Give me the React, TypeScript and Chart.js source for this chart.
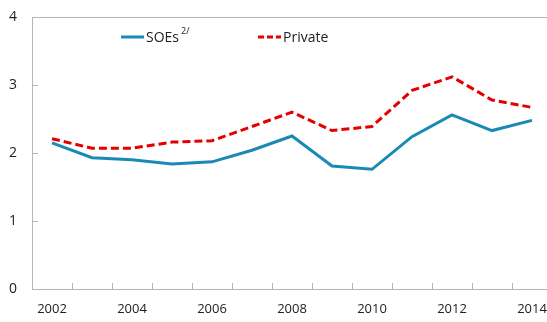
import React, { useEffect, useRef } from "react";
import { Chart, registerables } from "chart.js";

Chart.register(...registerables);

const years = [2002, 2003, 2004, 2005, 2006, 2007, 2008, 2009, 2010, 2011, 2012, 2013, 2014];
const soes = [2.15, 1.93, 1.9, 1.84, 1.87, 2.04, 2.25, 1.81, 1.76, 2.24, 2.56, 2.33, 2.48];
const privateSeries = [2.21, 2.07, 2.07, 2.16, 2.18, 2.39, 2.6, 2.33, 2.39, 2.92, 3.12, 2.78, 2.67];
const yMin = 0;
const yMax = 4;
const yStep = 1;
const soeLabel = "SOEs";
const soeNote = "2/";
const privateLabel = "Private";

// visible x window (the reference picture is cropped at the right)
const xMin = 2001.5;
const xMax = 2014.375;

const BLUE = "#1a8ab5";
const RED = "#e50000";
const AXIS = "#b5b5b5";
const TEXT = "#222222";
const FONT = "'Open Sans', 'Noto Sans', sans-serif";

const frameTicks = {
  id: "frameTicks",
  afterDraw(chart: any) {
    const { ctx } = chart;
    const x = chart.scales.x;
    const y = chart.scales.y;
    ctx.save();
    ctx.strokeStyle = AXIS;
    ctx.lineWidth = 1;
    ctx.beginPath();
    for (const yr of years) {
      const bx = x.getPixelForValue(yr + 0.5);
      if (bx > x.right + 0.5) continue;
      const px = Math.round(bx) + 0.5;
      ctx.moveTo(px, y.bottom);
      ctx.lineTo(px, y.bottom - 6);
    }
    for (const t of y.ticks) {
      if (t.value === yMin || t.value === yMax) continue;
      const py = Math.round(y.getPixelForValue(t.value)) + 0.5;
      ctx.moveTo(x.left, py);
      ctx.lineTo(x.left + 6, py);
    }
    ctx.stroke();
    ctx.restore();
  },
};

const customLegend = {
  id: "customLegend",
  afterDraw(chart: any) {
    const { ctx, chartArea } = chart;
    const ds = chart.data.datasets;
    const ly = chartArea.top + 20;
    const items = [
      { off: 89, ds: ds[0], note: soeNote },
      { off: 226, ds: ds[1], note: "" },
    ];
    ctx.save();
    for (const it of items) {
      const x0 = chartArea.left + it.off;
      ctx.strokeStyle = it.ds.borderColor;
      ctx.lineWidth = 3;
      ctx.setLineDash(it.ds.borderDash ? [6, 3] : []);
      ctx.beginPath();
      ctx.moveTo(x0, ly);
      ctx.lineTo(x0 + 23, ly);
      ctx.stroke();
      ctx.setLineDash([]);
      ctx.fillStyle = TEXT;
      ctx.font = `14px ${FONT}`;
      ctx.textBaseline = "middle";
      ctx.textAlign = "left";
      const tx = x0 + 25;
      ctx.fillText(it.ds.label, tx, ly + 1);
      if (it.note) {
        const w = ctx.measureText(it.ds.label).width;
        ctx.font = `9px ${FONT}`;
        ctx.fillText(it.note, tx + w + 2, ly - 6);
      }
    }
    ctx.restore();
  },
};

export default function App() {
  const ref = useRef<HTMLCanvasElement>(null);
  useEffect(() => {
    document.body.style.margin = "0";
    document.documentElement.style.overflow = "hidden";
    if (!ref.current) return;
    const chart = new Chart(ref.current, {
      type: "line",
      data: {
        datasets: [
          {
            label: soeLabel,
            data: years.map((yr, i) => ({ x: yr, y: soes[i] })),
            borderColor: BLUE,
            backgroundColor: BLUE,
            borderWidth: 3,
            pointRadius: 0,
            tension: 0,
            fill: false,
          },
          {
            label: privateLabel,
            data: years.map((yr, i) => ({ x: yr, y: privateSeries[i] })),
            borderColor: RED,
            backgroundColor: RED,
            borderWidth: 3,
            borderDash: [8, 4],
            pointRadius: 0,
            tension: 0,
            fill: false,
          },
        ],
      },
      options: {
        responsive: false,
        animation: false,
        devicePixelRatio: 1,
        layout: { padding: { left: 0, right: 0, top: 17, bottom: 0 } },
        plugins: {
          legend: { display: false },
          tooltip: { enabled: false },
          title: { display: false },
        },
        scales: {
          x: {
            type: "linear",
            min: xMin,
            max: xMax,
            grid: { display: false, drawTicks: false },
            border: { display: true, color: AXIS, width: 1 },
            ticks: {
              stepSize: 1,
              includeBounds: false,
              autoSkip: false,
              maxRotation: 0,
              padding: 12,
              color: TEXT,
              font: { family: FONT, size: 13 },
              callback: (val: any) => {
                const v = Number(val);
                return Number.isInteger(v) && v % 2 === 0 ? String(v) : "";
              },
            },
            afterFit(scale: any) {
              scale.height = 33;
              scale.paddingLeft = 0;
              scale.paddingRight = 0;
            },
          },
          y: {
            min: yMin,
            max: yMax,
            grid: {
              drawTicks: false,
              color: (c: any) => (c.tick && c.tick.value === yMax ? AXIS : "rgba(0,0,0,0)"),
              lineWidth: 1,
            },
            border: { display: true, color: AXIS, width: 1 },
            ticks: {
              stepSize: yStep,
              padding: 15,
              color: TEXT,
              font: { family: FONT, size: 14 },
            },
            afterFit(scale: any) {
              scale.width = 32;
              scale.paddingTop = 0;
              scale.paddingBottom = 0;
            },
          },
        },
      },
      plugins: [frameTicks, customLegend],
    });
    return () => chart.destroy();
  }, []);
  return (
    <div style={{ position: "fixed", left: 0, top: 0, width: 547, height: 322, overflow: "hidden", background: "#fff" }}>
      <canvas ref={ref} width={547} height={322} style={{ display: "block" }} />
    </div>
  );
}
